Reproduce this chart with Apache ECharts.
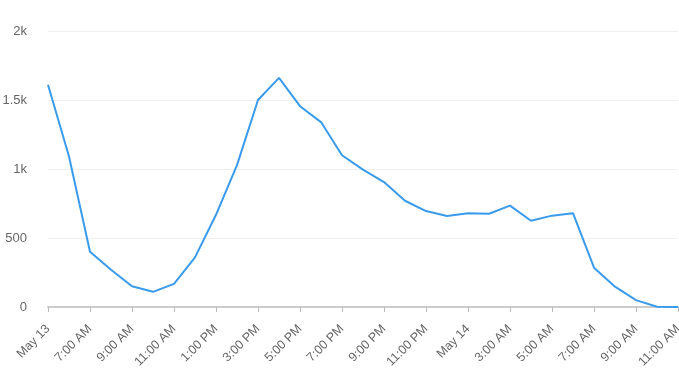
<!DOCTYPE html>
<html><head><meta charset="utf-8">
<script src="https://cdn.jsdelivr.net/npm/echarts@6/dist/echarts.min.js"></script>
<style>html,body{margin:0;padding:0;background:#fff;overflow:hidden}#c{width:679px;height:380px}</style>
</head><body><div id="c"></div>
<script>
const categories = ["May 13","6:00 AM","7:00 AM","8:00 AM","9:00 AM","10:00 AM","11:00 AM","12:00 PM","1:00 PM","2:00 PM","3:00 PM","4:00 PM","5:00 PM","6:00 PM","7:00 PM","8:00 PM","9:00 PM","10:00 PM","11:00 PM","12:00 AM","May 14","2:00 AM","3:00 AM","4:00 AM","5:00 AM","6:00 AM","7:00 AM","8:00 AM","9:00 AM","10:00 AM","11:00 AM"];
const values = [1610,1090,400,270,150,110,168,360,668,1028,1500,1660,1455,1340,1100,995,905,770,695,660,680,676,735,625,662,680,285,147,50,2,0];
const yTicks = {0:"0",500:"500",1000:"1k",1500:"1.5k",2000:"2k"};
const chart = echarts.init(document.getElementById('c'));
chart.setOption({
  animation:false,
  grid:{left:48,right:1,top:31,bottom:73,containLabel:false,outerBoundsMode:'none'},
  xAxis:{type:'category',data:categories,boundaryGap:false,
    axisLine:{lineStyle:{color:'#cccccc',width:2}},
    axisTick:{interval:1,length:5,lineStyle:{color:'#bbbbbb'}},
    axisLabel:{interval:1,rotate:45,color:'#666',fontSize:12.5,fontFamily:'Liberation Sans, Arial, sans-serif',margin:20},
    splitLine:{show:false}},
  yAxis:{type:'value',min:0,max:2000,interval:500,
    axisLine:{show:false},axisTick:{show:false},
    axisLabel:{color:'#666',fontSize:13,fontFamily:'Liberation Sans, Arial, sans-serif',margin:21,formatter:v=>yTicks[v]},
    splitLine:{lineStyle:{color:'#eeeeee'}}},
  series:[{type:'line',data:values,showSymbol:false,lineStyle:{color:'#3a9bec',width:2}}]
});
</script></body></html>
